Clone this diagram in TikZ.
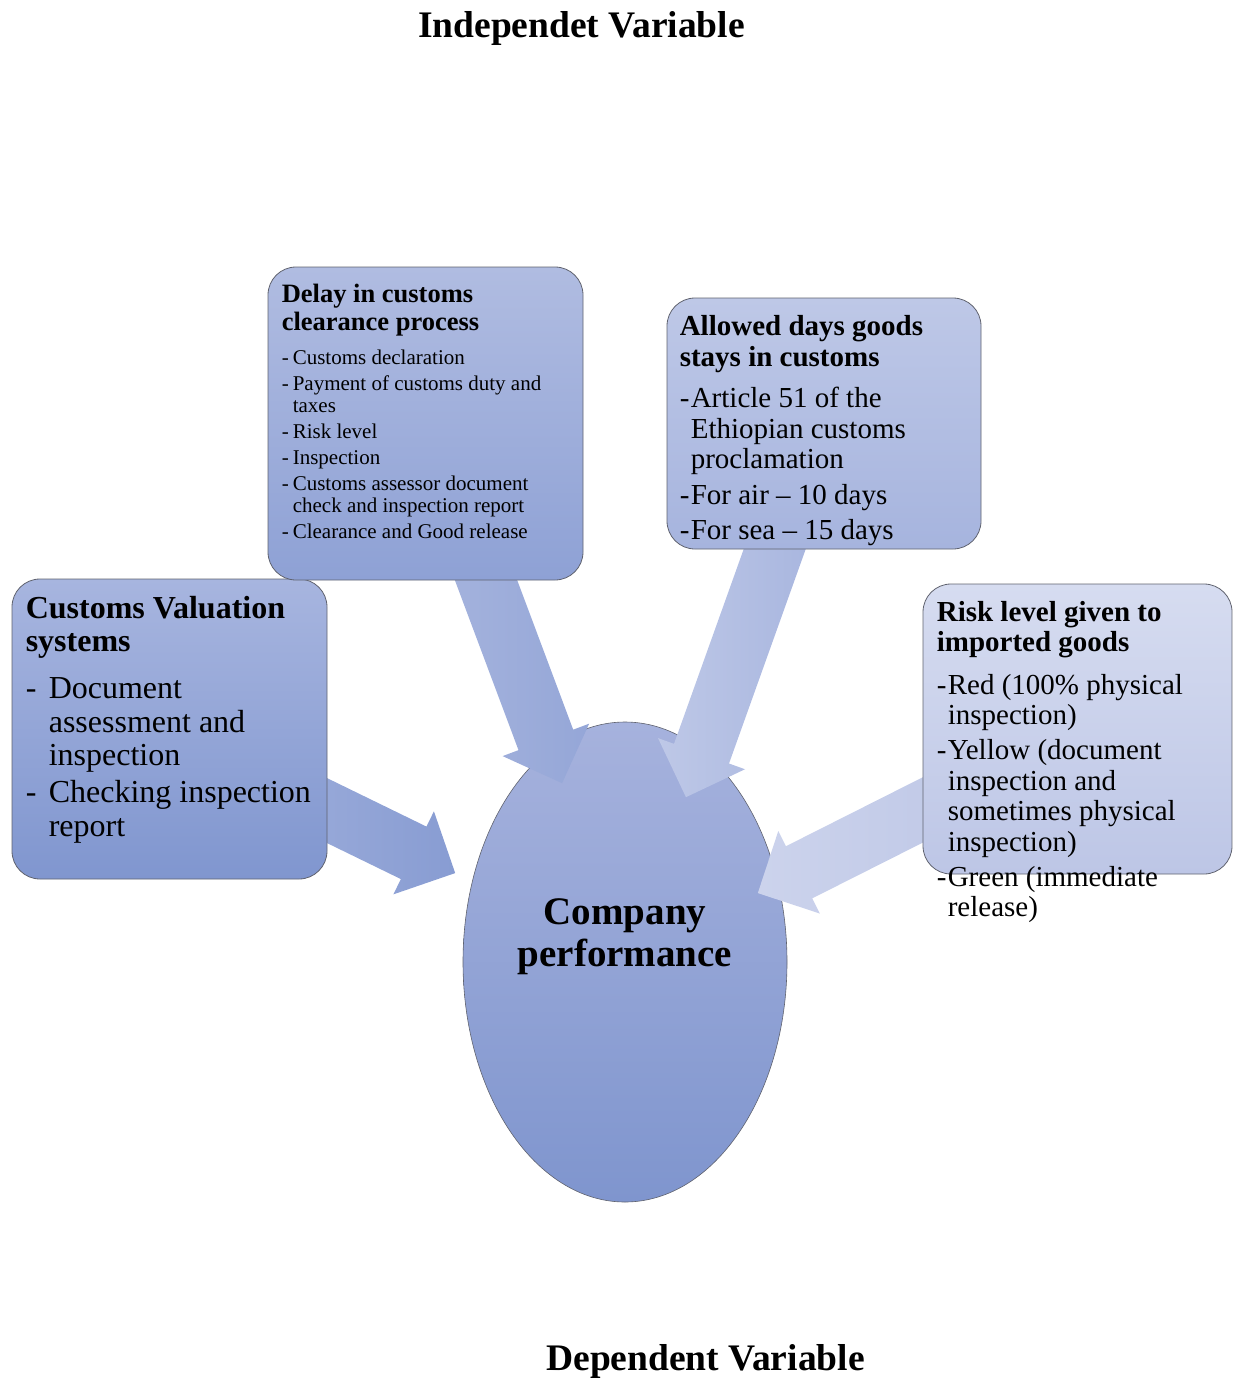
\documentclass[tikz,border=0pt]{standalone}
\usepackage{fontspec}
\setmainfont{Liberation Serif}
\usetikzlibrary{positioning,calc,shapes.geometric,shapes.arrows}

\definecolor{bxBorder}{HTML}{60636F}
\definecolor{dlyTop}{HTML}{B0BCE1}
\definecolor{dlyBot}{HTML}{8EA1D5}
\definecolor{valTop}{HTML}{A7B5DF}
\definecolor{valBot}{HTML}{8096CF}
\definecolor{alwTop}{HTML}{BEC8E7}
\definecolor{alwBot}{HTML}{A6B4DE}
\definecolor{rskTop}{HTML}{D6DCF0}
\definecolor{rskBot}{HTML}{BDC6E6}
\definecolor{ellTop}{HTML}{A6B2DD}
\definecolor{ellBot}{HTML}{7F95CE}

% one bullet line: dash, then hanging text
\newcommand{\itm}[2]{\par\hangindent=#1\hangafter=1\noindent\makebox[#1][l]{-}#2}
% block arrow from #1 to #2, shaded #3 -> #4, named #5
\newcommand{\blockarrow}[5]{%
  \path let \p1=($(#2)-(#1)$), \n1={atan2(\y1,\x1)}, \n2={veclen(\x1,\y1)} in
    node[flow, left color=#3, right color=#4, minimum height=\n2, rotate=\n1, anchor=tail] (#5) at (#1) {};}

\begin{document}
\begin{tikzpicture}[x=1pt, y=-1pt,
  box/.style={draw=bxBorder, line width=0.8pt, rounded corners=28pt, inner sep=0pt},
  txt/.style={anchor=base west, inner sep=0pt, text width=330pt, align=flush left},
  ttl/.style={anchor=base, inner sep=0pt, font=\fontsize{37.5}{40}\selectfont\bfseries},
  flow/.style={single arrow, draw=none, inner sep=0pt, inner ysep=29pt,
    single arrow head extend=17pt, single arrow tip angle=90,
    single arrow head indent=0pt, minimum width=92pt}]
\useasboundingbox (0,0) rectangle (1233,1378);

% titles
\node[ttl] (indep) at (581.5,38) {Independet Variable};
\node[ttl] (dep) at (705.5,1370) {Dependent Variable};

% dependent variable
\node[ellipse, draw=bxBorder, line width=0.6pt, top color=ellTop, bottom color=ellBot,
  minimum width=324pt, minimum height=480pt, inner sep=0pt] (perf) at (625,962) {};
\node[align=center, inner sep=0pt, font=\fontsize{39}{42}\selectfont\bfseries]
  (perf-txt) at ($(perf.center)+(0,-25)$) {Company\\performance};

% arrow ends
\coordinate (dly-out) at (456,500);
\coordinate (dly-in) at (562,783);
\coordinate (alw-out) at (803,470);
\coordinate (alw-in) at (686,797);
\coordinate (val-out) at (250,773);
\coordinate (val-in) at (455,873);
\coordinate (rsk-out) at (1000,771);
\coordinate (rsk-in) at (758,893);

\blockarrow{val-out}{val-in}{valTop!80!valBot}{valBot!80!valTop}{val-arr}
\blockarrow{dly-out}{dly-in}{dlyTop!70!dlyBot}{dlyBot!80!dlyTop}{dly-arr}
\blockarrow{alw-out}{alw-in}{alwTop}{alwBot}{alw-arr}
\blockarrow{rsk-out}{rsk-in}{rskTop!60!rskBot}{rskBot}{rsk-arr}

% independent variables
\node[box, top color=valTop, bottom color=valBot, minimum width=315pt, minimum height=300pt]
  (val) at (169.5,729) {};
\node[box, top color=dlyTop, bottom color=dlyBot, minimum width=315pt, minimum height=313pt]
  (dly) at (425.5,423.5) {};
\node[box, top color=alwTop, bottom color=alwBot, minimum width=314pt, minimum height=251pt]
  (alw) at (824,423.5) {};
\node[box, top color=rskTop, bottom color=rskBot, minimum width=309pt, minimum height=290pt]
  (rsk) at (1077.5,729) {};

% box texts
\node[txt] (dly-txt) at ($(dly.north west)+(14,36)$) {%
  {\fontsize{26.5}{28}\selectfont\bfseries Delay in customs\\clearance process\par}
  \setlength{\parskip}{4pt}\vspace{8pt}\fontsize{21}{22}\selectfont
  \itm{11pt}{Customs declaration}
  \itm{11pt}{Payment of customs duty and\newline taxes}
  \itm{11pt}{Risk level}
  \itm{11pt}{Inspection}
  \itm{11pt}{Customs assessor document\newline check and inspection report}
  \itm{11pt}{Clearance and Good release}\par};

\node[txt] (val-txt) at ($(val.north west)+(14,40)$) {%
  {\fontsize{32}{33}\selectfont\bfseries Customs Valuation\\systems\par}
  \setlength{\parskip}{3.5pt}\vspace{10pt}\fontsize{32}{33.5}\selectfont
  \itm{23pt}{Document\newline assessment and\newline inspection}
  \itm{23pt}{Checking inspection\newline report}\par};

\node[txt] (alw-txt) at ($(alw.north west)+(13,38)$) {%
  {\fontsize{29}{31}\selectfont\bfseries Allowed days goods\\stays in customs\par}
  \setlength{\parskip}{5pt}\vspace{5.5pt}\fontsize{29}{30.5}\selectfont
  \itm{11pt}{Article 51 of the\newline Ethiopian customs\newline proclamation}
  \itm{11pt}{For air -- 10 days}
  \itm{11pt}{For sea -- 15 days}\par};

\node[txt] (rsk-txt) at ($(rsk.north west)+(14,38)$) {%
  {\fontsize{29}{29.5}\selectfont\bfseries Risk level given to\\imported goods\par}
  \setlength{\parskip}{4.5pt}\vspace{8pt}\fontsize{29}{30.5}\selectfont
  \itm{11pt}{Red (100\% physical\newline inspection)}
  \itm{11pt}{Yellow (document\newline inspection and\newline sometimes physical\newline inspection)}
  \itm{11pt}{Green (immediate\newline release)}\par};
\end{tikzpicture}
\end{document}
